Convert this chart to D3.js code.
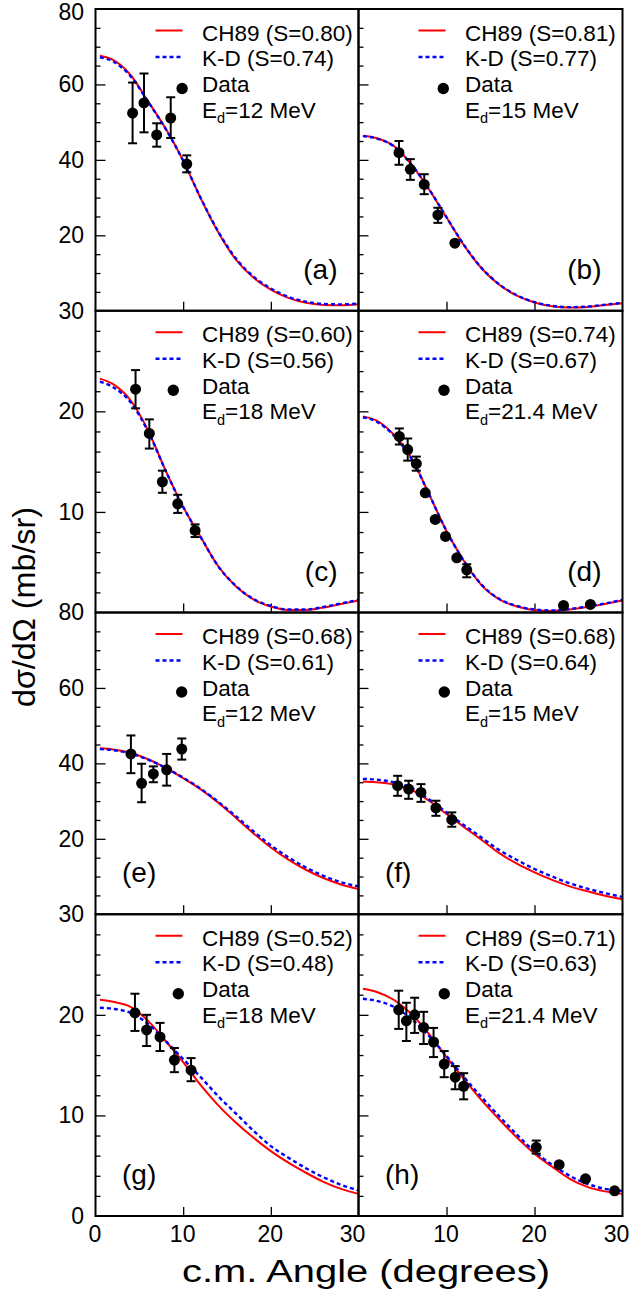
<!DOCTYPE html>
<html><head><meta charset="utf-8">
<script src="https://cdn.jsdelivr.net/npm/d3@7"></script>
<style>
body{margin:0;background:#fff}
svg{display:block}
text{font-family:"Liberation Sans",Arial,Helvetica,sans-serif;fill:#000}
</style>
</head><body>
<svg id="chart" width="637" height="1298"></svg>
<script>
// ---------- DATA ----------
const panelIds = ["a","b","c","d","e","f","g","h"];
const ch89Labels = ["CH89 (S=0.80)","CH89 (S=0.81)","CH89 (S=0.60)","CH89 (S=0.74)","CH89 (S=0.68)","CH89 (S=0.68)","CH89 (S=0.52)","CH89 (S=0.71)"];
const kdLabels   = ["K-D (S=0.74)","K-D (S=0.77)","K-D (S=0.56)","K-D (S=0.67)","K-D (S=0.61)","K-D (S=0.64)","K-D (S=0.48)","K-D (S=0.63)"];
const energies   = ["12","15","18","21.4","12","15","18","21.4"];

const xTickLabels = [0,10,20,30];
const yTickLabelsRow = [[80,60,40,20],[30,20,10],[80,60,40,20],[30,20,10,0]];
const yMaxRow = [80,30,80,30];

// theory curves sampled at these c.m. angles (deg)
const curveAngles = [0.5,2,4,6,8,10,12,14,16,18,20,22,24,26,28,30];
const ch89_a = [67.6,66.5,62.5,55.5,48.3,39.8,29.8,20.8,13.6,8.8,5.6,3.4,2.1,1.55,1.45,1.7];
const kd_a   = [67.2,66.1,62.2,55.4,48.2,39.8,29.9,21.0,13.9,9.1,5.9,3.7,2.4,1.8,1.7,1.9];
const ch89_b = [46.4,45.8,43.7,38.8,32.2,24.7,17.3,11.2,6.9,4.0,2.2,1.2,0.85,1.0,1.5,2.0];
const kd_b   = [46.3,45.7,43.6,38.8,32.3,24.8,17.4,11.3,7.0,4.1,2.3,1.3,0.95,1.1,1.6,2.1];
const ch89_c = [23.25,22.7,21.1,18.1,14.1,10.5,7.5,4.6,2.6,1.3,0.6,0.25,0.25,0.5,0.85,1.2];
const kd_c   = [22.95,22.4,20.9,18.0,14.1,10.5,7.5,4.6,2.65,1.35,0.65,0.3,0.3,0.55,0.9,1.25];
const ch89_d = [19.5,19.1,17.7,15.4,11.8,8.1,5.1,2.7,1.3,0.6,0.25,0.15,0.3,0.55,0.85,1.2];
const kd_d   = [19.4,19.0,17.6,15.3,11.8,8.1,5.1,2.75,1.35,0.65,0.3,0.2,0.35,0.6,0.9,1.25];
const ch89_e = [44.0,43.7,42.8,41.1,38.8,36.1,33.1,29.6,25.6,21.5,17.7,14.5,11.8,9.6,7.9,6.7];
const kd_e   = [43.8,43.5,42.6,41.0,38.8,36.2,33.3,29.8,26.0,22.0,18.3,15.1,12.4,10.2,8.5,7.4];
const ch89_f = [35.2,35.0,34.4,33.0,30.1,26.6,23.1,19.7,16.2,13.4,11.1,9.1,7.4,6.1,4.9,4.0];
const kd_f   = [35.9,35.7,35.0,33.5,30.5,27.0,23.6,20.3,17.0,14.4,12.0,10.0,8.2,6.8,5.6,4.6];
const ch89_g = [21.5,21.3,20.8,19.4,17.4,15.3,13.0,11.0,9.3,7.8,6.45,5.3,4.3,3.4,2.7,2.2];
const kd_g   = [20.7,20.6,20.2,19.1,17.4,15.6,13.8,11.9,10.2,8.5,6.95,5.8,4.75,3.85,3.1,2.55];
const ch89_h = [22.6,22.3,21.5,20.1,18.1,15.8,13.6,11.5,9.6,7.8,6.2,4.9,3.7,2.9,2.45,2.2];
const kd_h   = [21.6,21.4,20.8,19.6,17.9,15.9,13.8,11.8,9.9,8.1,6.4,5.1,4.0,3.2,2.7,2.5];

// measured data (angle, value, error low, error high)
const data_a_ang = [4.23,5.53,6.98,8.58,10.41];
const data_a_val = [52.4,55.1,46.6,51.1,38.9];
const data_a_lo  = [44.4,47.3,43.5,45.8,36.7];
const data_a_hi  = [60.5,62.9,49.7,56.6,41.2];
const data_b_ang = [4.6,5.89,7.47,9.02,10.95];
const data_b_val = [41.9,37.5,33.5,25.4,17.9];
const data_b_lo  = [38.7,34.7,30.9,23.3,null];
const data_b_hi  = [45.0,40.2,36.2,27.3,null];
const data_c_ang = [4.57,6.14,7.63,9.38,11.36];
const data_c_val = [22.2,17.8,13.0,10.8,8.16];
const data_c_lo  = [20.3,16.3,11.9,9.9,7.5];
const data_c_hi  = [24.1,19.2,14.1,11.7,8.76];
const data_d_ang = [4.64,5.59,6.57,7.59,8.72,9.89,11.17,12.3,23.3,26.35];
const data_d_val = [17.5,16.2,14.8,11.9,9.25,7.56,5.44,4.24,0.7,0.8];
const data_d_lo  = [16.7,15.1,14.1,null,null,null,null,3.5,null,null];
const data_d_hi  = [18.3,17.3,15.5,null,null,null,null,4.8,null,null];
const data_e_ang = [4.04,5.26,6.6,8.12,9.84];
const data_e_val = [42.5,34.7,37.2,38.3,43.8];
const data_e_lo  = [37.4,29.7,35.0,34.1,41.0];
const data_e_hi  = [47.4,39.9,39.2,42.5,46.6];
const data_f_ang = [4.45,5.7,7.1,8.8,10.6];
const data_f_val = [34.1,33.2,32.3,28.2,25.1];
const data_f_lo  = [31.4,30.6,29.8,26.1,23.2];
const data_f_hi  = [36.7,35.4,34.5,30.1,27.0];
const data_g_ang = [4.5,5.83,7.36,9.0,10.9];
const data_g_val = [20.2,18.5,17.8,15.5,14.5];
const data_g_lo  = [18.4,16.9,16.4,14.3,13.4];
const data_g_hi  = [22.1,20.0,19.2,16.7,15.7];
const data_h_ang = [4.57,5.44,6.38,7.4,8.53,9.74,10.99,11.95,20.2,22.8,25.8,29.1];
const data_h_val = [20.5,19.4,20.0,18.75,17.3,15.1,13.8,12.9,6.83,5.1,3.7,2.5];
const data_h_lo  = [18.6,17.4,18.2,17.1,15.8,13.8,12.6,11.6,6.2,null,null,null];
const data_h_hi  = [22.4,21.2,21.7,20.3,18.7,16.4,14.9,14.2,7.5,null,null,null];

// ---------- LAYOUT ----------
const colEdges = [95.5, 358.5, 622.5];
const rowEdges = [9, 310.75, 612.5, 914.25, 1216];
const legendDotDx = [86.6, 84.8, 77.8, 85.5, 86.2, 85.8, 82.8, 85.8];
const RED = "#ff0000", BLUE = "#0000ff";

const curvesCH = [ch89_a,ch89_b,ch89_c,ch89_d,ch89_e,ch89_f,ch89_g,ch89_h];
const curvesKD = [kd_a,kd_b,kd_c,kd_d,kd_e,kd_f,kd_g,kd_h];
const dataSets = [
  [data_a_ang,data_a_val,data_a_lo,data_a_hi],
  [data_b_ang,data_b_val,data_b_lo,data_b_hi],
  [data_c_ang,data_c_val,data_c_lo,data_c_hi],
  [data_d_ang,data_d_val,data_d_lo,data_d_hi],
  [data_e_ang,data_e_val,data_e_lo,data_e_hi],
  [data_f_ang,data_f_val,data_f_lo,data_f_hi],
  [data_g_ang,data_g_val,data_g_lo,data_g_hi],
  [data_h_ang,data_h_val,data_h_lo,data_h_hi]
];

const svg = d3.select("#chart");

panelIds.forEach((id, i) => {
  const col = i % 2, row = Math.floor(i / 2);
  const x0 = colEdges[col], x1 = colEdges[col + 1];
  const yTop = rowEdges[row], yBot = rowEdges[row + 1];
  const ymax = yMaxRow[row];
  const x = d3.scaleLinear().domain([0, 30]).range([x0, x1]);
  const y = d3.scaleLinear().domain([0, ymax]).range([yBot, yTop]);
  const g = svg.append("g");

  // y ticks (inward)
  const step = ymax === 80 ? 5 : 2;
  const majorStep = ymax === 80 ? 20 : 10;
  const minor = d3.range(step, ymax, step).filter(v => v % majorStep !== 0);
  const major = d3.range(majorStep, ymax, majorStep);
  const ax1 = g.append("g").attr("transform", `translate(${x0},0)`)
    .call(d3.axisRight(y).tickValues(minor).tickSize(5).tickFormat(""));
  const ax2 = g.append("g").attr("transform", `translate(${x0},0)`)
    .call(d3.axisRight(y).tickValues(major).tickSize(10).tickFormat(""));
  const ax3 = g.append("g").attr("transform", `translate(0,${yBot})`)
    .call(d3.axisTop(x).tickValues([10, 20]).tickSize(9).tickFormat(""));
  [ax1, ax2, ax3].forEach(a => { a.select(".domain").remove(); a.selectAll("line").attr("stroke", "#000").attr("stroke-width", 1.3); });

  // y tick labels (left column only)
  if (col === 0) {
    const yl = g.append("g").attr("transform", `translate(${x0},0)`)
      .call(d3.axisLeft(y).tickValues(yTickLabelsRow[row]).tickSize(0).tickPadding(11.5).tickFormat(d3.format("d")));
    yl.select(".domain").remove();
    yl.attr("font-family", null).attr("font-size", null);
    yl.selectAll("text").style("font-size", "23px")
      .attr("dy", d => (row === 0 && d === 80) ? "0.47em" : "0.32em");
  }
  // x tick labels (bottom row only)
  if (row === 3) {
    const vals = col === 0 ? xTickLabels : xTickLabels.slice(1);
    const xl = g.append("g").attr("transform", `translate(0,${yBot})`)
      .call(d3.axisBottom(x).tickValues(vals).tickSize(0).tickPadding(10));
    xl.select(".domain").remove();
    xl.attr("font-family", null).attr("font-size", null);
    xl.selectAll("text").style("font-size", "23px")
      .attr("dx", d => d === 30 ? -6.5 : -1);
  }

  // curves
  const line = d3.line().x(d => x(d[0])).y(d => y(d[1])).curve(d3.curveMonotoneX);
  g.append("path").datum(d3.zip(curveAngles, curvesCH[i]))
    .attr("d", line).attr("fill", "none").attr("stroke", RED).attr("stroke-width", 2);
  g.append("path").datum(d3.zip(curveAngles, curvesKD[i]))
    .attr("d", line).attr("fill", "none").attr("stroke", BLUE).attr("stroke-width", 2.4)
    .attr("stroke-dasharray", "4,3");

  // data with error bars
  const [ang, val, lo, hi] = dataSets[i];
  const pts = ang.map((a, k) => ({a, v: val[k], lo: lo[k], hi: hi[k]}));
  const eb = g.append("g").attr("stroke", "#000").attr("stroke-width", 2);
  pts.filter(p => p.lo !== null).forEach(p => {
    eb.append("line").attr("x1", x(p.a)).attr("x2", x(p.a)).attr("y1", y(p.lo)).attr("y2", y(p.hi));
    eb.append("line").attr("x1", x(p.a) - 4.5).attr("x2", x(p.a) + 4.5).attr("y1", y(p.lo)).attr("y2", y(p.lo));
    eb.append("line").attr("x1", x(p.a) - 4.5).attr("x2", x(p.a) + 4.5).attr("y1", y(p.hi)).attr("y2", y(p.hi));
  });
  g.append("g").selectAll("circle").data(pts).join("circle")
    .attr("cx", p => x(p.a)).attr("cy", p => y(p.v)).attr("r", 5.5).attr("fill", "#000");

  // legend
  const lx = x0;
  g.append("line").attr("x1", lx + 60).attr("x2", lx + 87).attr("y1", yTop + 21.5).attr("y2", yTop + 21.5)
    .attr("stroke", RED).attr("stroke-width", 2);
  g.append("line").attr("x1", lx + 60).attr("x2", lx + 87).attr("y1", yTop + 48).attr("y2", yTop + 48)
    .attr("stroke", BLUE).attr("stroke-width", 2.4).attr("stroke-dasharray", "4,3");
  g.append("circle").attr("cx", lx + legendDotDx[i]).attr("cy", yTop + 79.5).attr("r", 5.7).attr("fill", "#000");
  const fs = "22.5px";
  g.append("text").attr("x", lx + 106.5).attr("y", yTop + 31.5).style("font-size", fs).text(ch89Labels[i]);
  g.append("text").attr("x", lx + 106.5).attr("y", yTop + 57.2).style("font-size", fs).text(kdLabels[i]);
  g.append("text").attr("x", lx + 106.5).attr("y", yTop + 83).style("font-size", fs).text("Data");
  const et = g.append("text").attr("x", lx + 106.5).attr("y", yTop + 108.5).style("font-size", fs);
  et.append("tspan").text("E");
  et.append("tspan").attr("dy", 5.6).style("font-size", "14.5px").text("d");
  et.append("tspan").attr("dy", -5.6).text("=" + energies[i] + " MeV");

  // panel label
  const pl = g.append("text").attr("y", yBot - 32).style("font-size", "28px").text("(" + id + ")");
  if (row < 2) pl.attr("x", x1 - 21).attr("text-anchor", "end");
  else pl.attr("x", x0 + 26.5);
});

// frames
for (let r = 0; r < 4; r++) for (let c = 0; c < 2; c++) {
  svg.append("rect").attr("x", colEdges[c]).attr("y", rowEdges[r])
    .attr("width", colEdges[c + 1] - colEdges[c]).attr("height", rowEdges[r + 1] - rowEdges[r])
    .attr("fill", "none").attr("stroke", "#000").attr("stroke-width", 2);
}

// axis titles
svg.append("text").attr("x", 366).attr("y", 1282).attr("text-anchor", "middle")
  .style("font-size", "31px").attr("textLength", 368).attr("lengthAdjust", "spacingAndGlyphs")
  .text("c.m. Angle (degrees)");
svg.append("text").attr("transform", "translate(35,607) rotate(-90)").attr("text-anchor", "middle")
  .style("font-size", "31px").attr("textLength", 200).attr("lengthAdjust", "spacingAndGlyphs")
  .text("dσ/dΩ (mb/sr)");
</script>
</body></html>
